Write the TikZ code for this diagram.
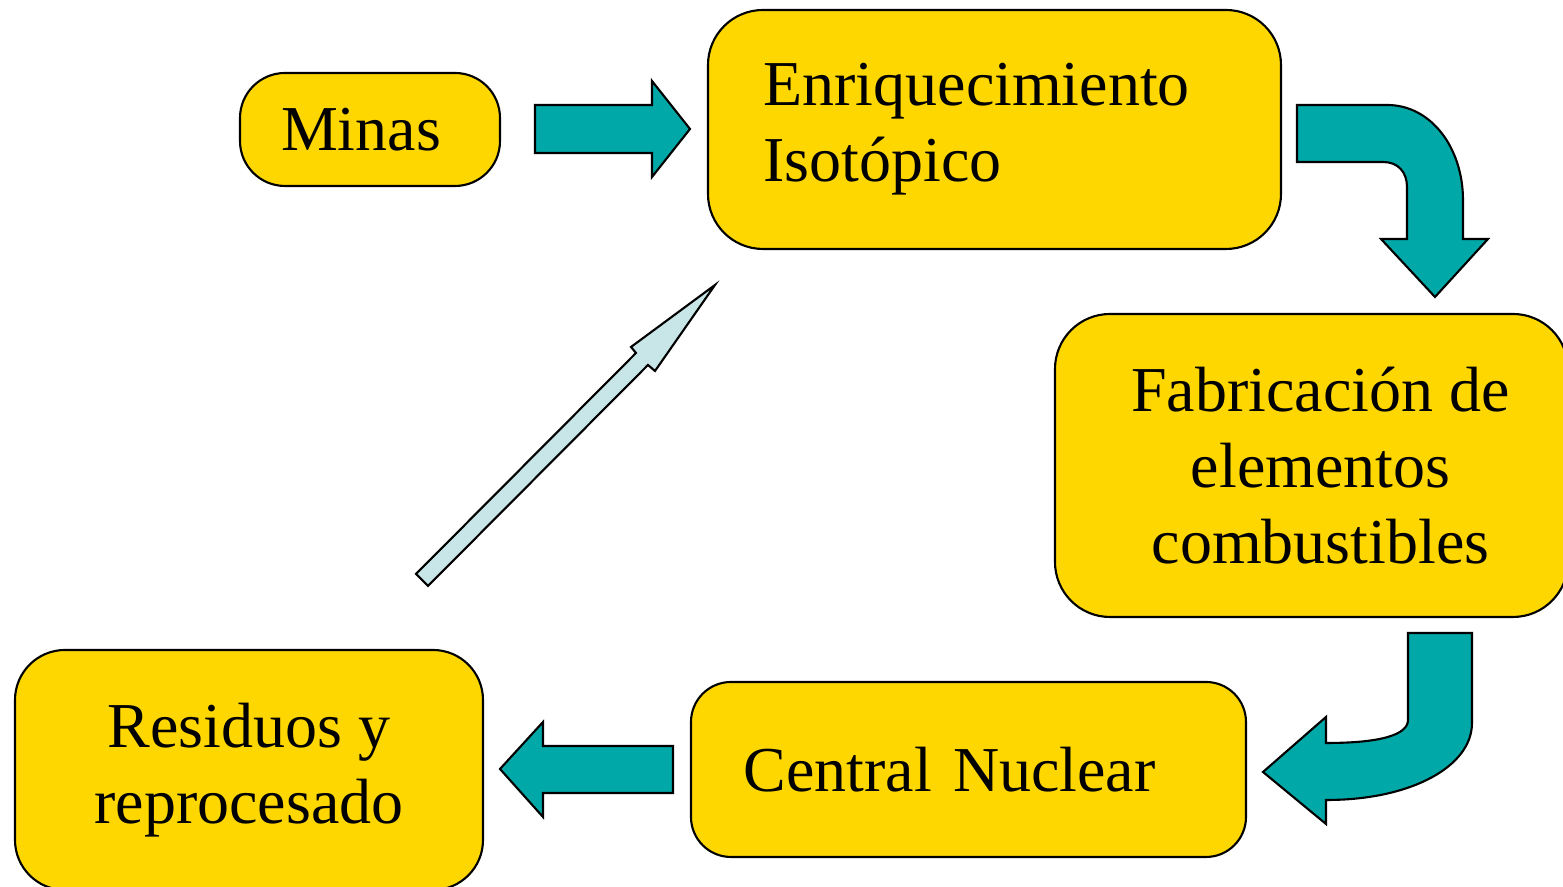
\documentclass[tikz,border=0pt]{standalone}
\usepackage{fontspec}
\setmainfont{Liberation Serif}
\usepackage{xcolor}
\definecolor{boxgold}{RGB}{255,215,0}
\definecolor{arrowteal}{RGB}{0,168,168}
\definecolor{arrowpale}{RGB}{200,230,232}
\tikzset{
	stage/.style={draw, fill=boxgold, line width=0.6pt, inner sep=0pt, align=center,
		font=\fontsize{18.2}{21.6}\selectfont},
	blockarrow/.style={draw, fill=arrowteal, line width=0.6pt, line join=miter},
}

\begin{document}
\begin{tikzpicture}
			\clip (0,0) rectangle (15.63,8.87);
			\node[stage, minimum width=2.6cm, minimum height=1.13cm, rounded corners=0.45cm] at (3.70,7.575) (minas) {\hspace*{-0.18cm}Minas};
			\node[stage, minimum width=5.73cm, minimum height=2.39cm, rounded corners=0.55cm, text width=4.62cm, align=left] at (9.945,7.575) (enriq) {Enriquecimiento\\Isotópico};
			\node[stage, minimum width=5.13cm, minimum height=3.03cm, rounded corners=0.55cm] at (13.115,4.215) (fabric) {\hspace*{0.18cm}Fabricación de\\\hspace*{0.18cm}elementos\\\hspace*{0.18cm}combustibles};
			\node[stage, minimum width=5.55cm, minimum height=1.75cm, rounded corners=0.4cm, text width=4.5cm, align=left] at (9.685,1.175) (central) {Central Nuclear};
			\node[stage, minimum width=4.68cm, minimum height=2.4cm, rounded corners=0.5cm] at (2.49,1.17) (residuos) {Residuos y\\reprocesado};
			\draw[blockarrow] (5.35,7.82) -- (6.52,7.82) -- (6.52,8.06) -- (6.90,7.58) -- (6.52,7.10) -- (6.52,7.34) -- (5.35,7.34) -- cycle;
			\draw[blockarrow] (12.97,7.82) -- (13.87,7.82) .. controls (14.32,7.82) and (14.63,7.38) .. (14.63,6.87) -- (14.63,6.48) -- (14.88,6.48) -- (14.35,5.90) -- (13.81,6.48) -- (14.07,6.48) -- (14.07,7.00) .. controls (14.07,7.15) and (13.98,7.25) .. (13.83,7.25) -- (12.97,7.25) -- cycle;
			\draw[blockarrow] (14.08,2.54) -- (14.08,1.67) .. controls (14.08,1.52) and (13.80,1.44) .. (13.27,1.44) -- (13.26,1.44) -- (13.26,1.70) -- (12.63,1.15) -- (13.26,0.63) -- (13.26,0.87) -- (13.27,0.87) .. controls (14.10,0.87) and (14.72,1.20) .. (14.72,1.64) -- (14.72,2.54) -- cycle;
			\draw[blockarrow] (6.73,1.41) -- (5.43,1.41) -- (5.43,1.65) -- (5.00,1.18) -- (5.43,0.70) -- (5.43,0.94) -- (6.73,0.94) -- cycle;
			\draw[blockarrow, fill=arrowpale] (4.16,3.13) -- (6.36,5.34) -- (6.31,5.40) -- (7.15,6.02) -- (6.55,5.16) -- (6.48,5.22) -- (4.28,3.01) -- cycle;
		\end{tikzpicture}
\end{document}
